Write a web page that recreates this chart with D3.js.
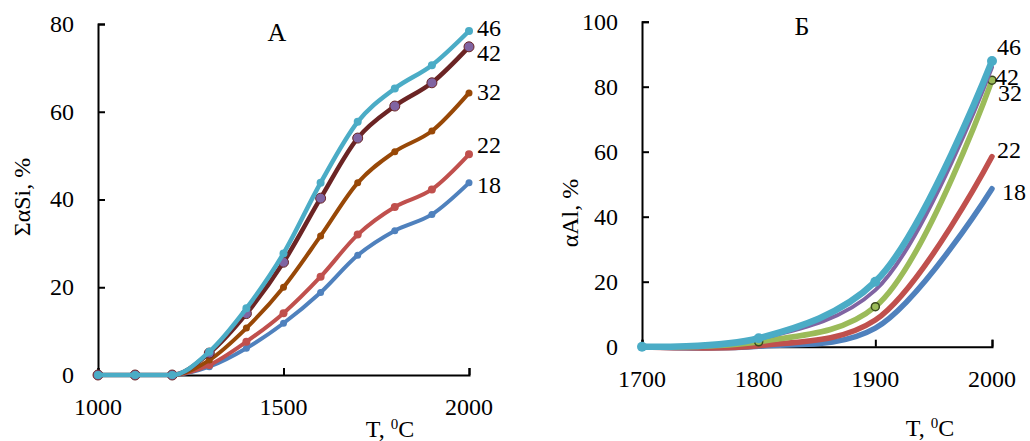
<!DOCTYPE html>
<html>
<head>
<meta charset="UTF-8">
<script src="https://d3js.org/d3.v7.min.js"></script>
<style>
  body { margin: 0; background: #fff; }
  svg { font-family: "Liberation Serif", "Times New Roman", serif; }
</style>
</head>
<body>
<svg width="1030" height="441"></svg>
<script>

// DATA

// panel A: sum alpha Si vs T
var tempA = [1000, 1100, 1200, 1300, 1400, 1500, 1600, 1700, 1800, 1900, 2000];
var si18 = [0, 0, 0, 1.9, 6.1, 11.8, 18.8, 27.3, 32.9, 36.6, 43.8];
var si22 = [0, 0, 0, 2.3, 7.6, 14.1, 22.4, 32.0, 38.3, 42.3, 50.3];
var si32 = [0, 0, 0, 3.4, 10.7, 20.0, 31.7, 43.8, 50.9, 55.6, 64.3];
var si42 = [0, 0, 0, 5.0, 14.0, 25.7, 40.3, 54.0, 61.3, 66.6, 74.8];
var si46 = [0, 0, 0, 5.3, 15.2, 27.7, 43.8, 57.7, 65.3, 70.6, 78.4];

// panel B: alpha Al vs T
var tempB = [1700, 1800, 1900, 2000];
var al18 = [0, 0.1, 5.7, 48.6];
var al22 = [0, 0.3, 8.2, 58.5];
var al32 = [0, 1.5, 12.3, 82.0];
var al42 = [0, 2.4, 17.4, 86.0];
var al46 = [0, 2.6, 20.0, 87.9];

var seriesNames = ["18", "22", "32", "42", "46"];
var labelValA = [43.3, 52.4, 64.5, 73.3, 79.0];
var labelValB = [47.6, 60.5, 78.0, 83.0, 92.2];

var ticksA_x = [1000, 1500, 2000];
var ticksA_y = [0, 20, 40, 60, 80];
var ticksB_x = [1700, 1800, 1900, 2000];
var ticksB_y = [0, 20, 40, 60, 80, 100];

// SETUP

var svg = d3.select("svg");

function panel(opt) {
  var x = d3.scaleLinear().domain(opt.xDomain).range([opt.left, opt.right]),
      y = d3.scaleLinear().domain(opt.yDomain).range([opt.bottom, opt.top]);

  var g = svg.append("g");

  // axes (ticks point inward)
  g.append("g")
    .attr("transform", "translate(0," + opt.bottom + ")")
    .call(d3.axisTop(x).tickValues(opt.xTicks).tickSize(7).tickFormat(""))
    .call(function (a) {
      a.select(".domain").attr("stroke", "#000").attr("stroke-width", 2);
      a.selectAll(".tick line").attr("stroke", "#000").attr("stroke-width", 2);
    });

  g.append("g")
    .attr("transform", "translate(" + opt.left + ",0)")
    .call(d3.axisRight(y).tickValues(opt.yTicks).tickSize(7).tickFormat(""))
    .call(function (a) {
      a.select(".domain").attr("stroke", "#000").attr("stroke-width", 2);
      a.selectAll(".tick line").attr("stroke", "#000").attr("stroke-width", 2);
    });

  // tick labels
  g.selectAll(".xl").data(opt.xTicks).enter().append("text")
    .attr("x", function (d) { return x(d); })
    .attr("y", opt.bottom + 40)
    .attr("text-anchor", "middle")
    .style("font-size", "24px")
    .text(function (d) { return d; });

  g.selectAll(".yl").data(opt.yTicks).enter().append("text")
    .attr("x", opt.left - 24)
    .attr("y", function (d) { return y(d); })
    .attr("dy", "0.33em")
    .attr("text-anchor", "end")
    .style("font-size", "24px")
    .text(function (d) { return d; });

  // titles
  var xt = g.append("text")
    .attr("x", opt.xTitleX)
    .attr("y", opt.xTitleY)
    .attr("text-anchor", "middle")
    .style("font-size", "24px");
  xt.append("tspan").text("T, ");
  xt.append("tspan").attr("dy", -8).style("font-size", "15px").text("0");
  xt.append("tspan").attr("dy", 8).text("C");

  g.append("text")
    .attr("transform", "translate(" + opt.yTitleX + "," + opt.yTitleY + ") rotate(-90)")
    .attr("text-anchor", "middle")
    .attr("dy", "0.33em")
    .style("font-size", "24px")
    .text(opt.yTitle);

  g.append("text")
    .attr("x", opt.letterX)
    .attr("y", opt.letterY)
    .attr("text-anchor", "middle")
    .style("font-size", "26px")
    .text(opt.letter);

  // lines
  var line = d3.line()
    .x(function (d) { return x(d[0]); })
    .y(function (d) { return y(d[1]); })
    .curve(opt.curve);

  opt.series.forEach(function (s) {
    var pts = opt.xs.map(function (t, i) { return [t, s.values[i]]; });
    g.append("path")
      .datum(pts)
      .attr("fill", "none")
      .attr("stroke", s.color)
      .attr("stroke-width", s.width)
      .attr("stroke-linejoin", "round")
      .attr("stroke-linecap", "round")
      .attr("d", line);
    if (s.r) {
      g.selectAll(null).data(pts.slice(s.from || 0)).enter().append("circle")
        .attr("cx", function (d) { return x(d[0]); })
        .attr("cy", function (d) { return y(d[1]); })
        .attr("r", s.r)
        .attr("fill", s.fill)
        .attr("stroke", s.stroke || "none")
        .attr("stroke-width", s.sw || 1);
    }
  });

  // series labels at line ends
  g.selectAll(".sl").data(seriesNames).enter().append("text")
    .attr("x", function (d, i) { return x(opt.xDomain[1]) + opt.labelDx[i]; })
    .attr("y", function (d, i) { return y(opt.labelVals[i]); })
    .attr("dy", "0.33em")
    .style("font-size", "24px")
    .text(function (d) { return d; });
}

// DRAWING

panel({
  xDomain: [1000, 2000], yDomain: [0, 80],
  left: 98, right: 469, top: 24, bottom: 375,
  xTicks: ticksA_x, yTicks: ticksA_y, xs: tempA,
  curve: d3.curveMonotoneX,
  xTitleX: 390, xTitleY: 437,
  yTitle: "ΣαSi, %", yTitleX: 22, yTitleY: 197,
  letter: "А", letterX: 277, letterY: 41,
  labelVals: labelValA, labelDx: [8, 8, 8, 8, 8],
  series: [
    { values: si18, color: "#4f81bd", width: 4, r: 3.5, fill: "#4f81bd" },
    { values: si22, color: "#c0504d", width: 4, r: 4, fill: "#c0504d" },
    { values: si32, color: "#984807", width: 4, r: 3.5, fill: "#984807" },
    { values: si42, color: "#6b2424", width: 4.5, r: 5, fill: "#8064a2", stroke: "#6b2424", sw: 1 },
    { values: si46, color: "#4bacc6", width: 4.5, r: 4, fill: "#4bacc6" }
  ]
});

panel({
  xDomain: [1700, 2000], yDomain: [0, 100],
  left: 642, right: 992, top: 21.7, bottom: 346.7,
  xTicks: ticksB_x, yTicks: ticksB_y, xs: tempB,
  curve: d3.curveCatmullRom.alpha(0.5),
  xTitleX: 930, xTitleY: 436,
  yTitle: "αAl, %", yTitleX: 570, yTitleY: 213,
  letter: "Б", letterX: 802, letterY: 35,
  labelVals: labelValB, labelDx: [10, 5, 6, 3, 5],
  series: [
    { values: al18, color: "#4f81bd", width: 5.5 },
    { values: al22, color: "#c0504d", width: 5.5 },
    { values: al32, color: "#9bbb59", width: 5.5, r: 4, fill: "#9bbb59", stroke: "#3b4a1e", sw: 1.5, from: 1 },
    { values: al42, color: "#8064a2", width: 4 },
    { values: al46, color: "#4bacc6", width: 6.5, r: 5, fill: "#4bacc6" }
  ]
});

</script>
</body>
</html>
